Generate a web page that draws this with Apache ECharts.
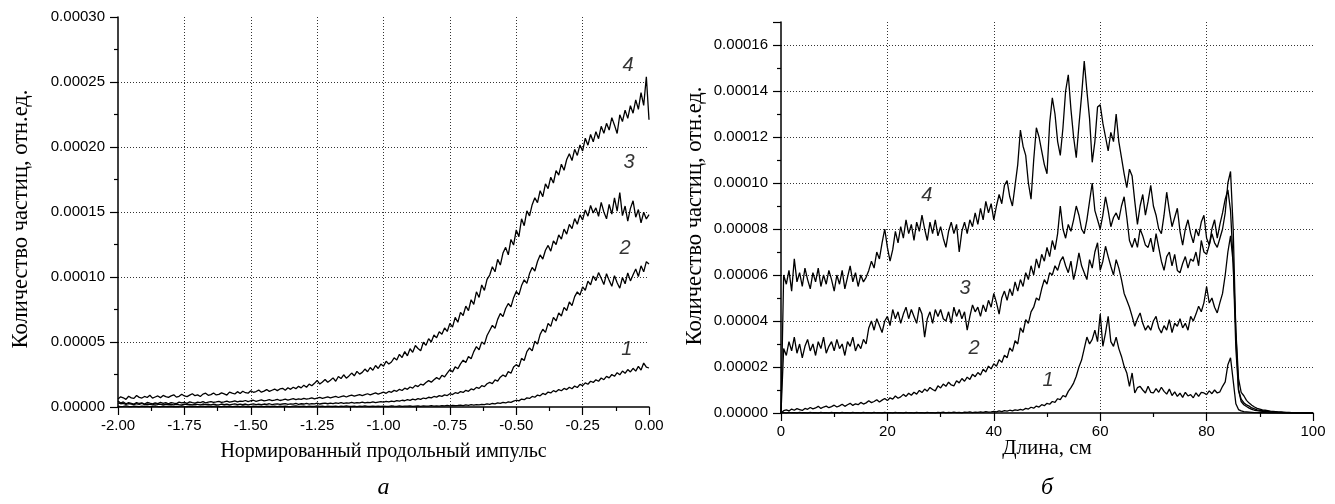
<!DOCTYPE html>
<html><head><meta charset="utf-8">
<script src="https://cdn.jsdelivr.net/npm/echarts@6/dist/echarts.min.js"></script>
<style>html,body{margin:0;padding:0;background:#fff}#c{width:1335px;height:504px}</style>
</head><body><div id="c"></div>
<script>
// ---------- DATA (values in units of 1e-6) ----------
// Panel a: x from -2.00 to 0.00, step 0.01
const leftXStart = -2, leftXStep = 0.01;
const leftCurve1 = [
0.6,0.3,0.5,0.8,0.4,0.3,0.6,0.5,0.2,0.7,0.4,0.6,0.3,0.5,0.8,0.4,0.3,0.6,0.5,0.4,
0.7,0.3,0.5,0.4,0.8,0.5,0.3,0.6,0.4,0.7,0.3,0.5,0.6,0.3,0.7,0.4,0.5,0.8,0.4,0.3,
0.6,0.4,0.7,0.3,0.5,0.6,0.3,0.8,0.4,0.5,0.3,0.7,0.5,0.4,0.6,0.3,0.7,0.4,0.5,0.6,
0.3,0.6,0.5,0.7,0.4,0.3,0.6,0.8,0.4,0.5,0.7,0.3,0.6,0.4,0.5,0.8,0.4,0.6,0.3,0.7,
0.5,0.4,0.7,0.3,0.6,0.5,0.8,0.4,0.5,0.7,0.3,0.6,0.4,0.8,0.5,0.4,0.7,0.5,0.6,0.4,
0.7,0.5,0.4,0.8,0.6,0.5,0.9,0.4,0.7,0.6,0.8,0.5,0.7,0.9,0.5,0.8,0.6,0.7,1.0,0.6,
0.9,0.7,1.0,0.8,1.2,0.9,1.3,1.0,1.2,1.5,1.1,1.6,1.3,1.8,1.4,1.9,1.6,2.1,1.8,2.4,
2.1,2.7,2.4,3.1,2.8,3.5,3.1,4.0,3.6,4.5,5.2,4.7,6.1,5.6,7.0,6.6,8.1,7.5,9.2,8.6,
10.4,9.6,11.5,10.8,12.6,11.7,13.4,12.5,14.3,13.4,15.2,14.0,16.1,15.0,17.4,16.4,18.6,17.5,19.8,18.9,
20.9,19.8,22.3,21.0,23.6,22.4,25.0,23.6,26.4,24.8,27.6,25.9,28.8,27.0,29.8,27.6,31.2,28.4,33.8,30.6,
30.0];
const leftCurve2 = [
3.1,2.5,2.8,2.1,2.6,2.3,1.9,2.5,2.1,2.7,1.9,2.3,2.0,1.7,2.4,2.0,2.2,1.7,2.3,1.9,
2.1,1.6,2.2,1.9,1.7,2.3,1.8,2.1,1.6,2.2,2.0,1.7,2.3,1.9,2.1,1.6,2.2,1.9,1.7,2.3,
1.9,2.2,1.7,2.1,2.4,1.8,2.2,1.9,2.3,1.7,2.1,2.4,1.9,2.2,1.8,2.3,2.0,2.5,1.9,2.2,
2.4,2.0,2.3,2.6,2.0,2.4,2.2,2.7,2.1,2.5,2.3,2.8,2.2,2.6,2.4,2.9,2.3,2.7,3.0,2.5,
2.9,2.6,3.1,2.8,3.3,2.7,3.2,3.0,3.5,2.9,3.4,3.2,3.7,3.1,3.6,3.4,3.9,3.3,3.8,4.1,
3.7,4.3,4.0,4.6,4.2,4.9,4.5,5.2,4.8,5.6,5.1,6.0,5.5,6.4,5.9,6.9,6.4,7.5,7.0,8.1,
7.6,8.7,8.2,9.3,8.8,10.2,9.6,11.0,10.4,11.9,11.2,12.8,12.1,13.9,13.2,15.1,14.3,16.4,15.7,17.9,
18.9,18.0,20.8,19.9,22.9,24.6,23.4,27.3,26.0,30.8,32.6,31.0,37.4,35.8,42.6,45.4,43.2,50.6,48.4,55.9,
59.8,57.4,64.3,62.0,68.9,66.2,72.4,70.0,76.6,74.2,80.8,78.0,84.9,88.6,86.1,92.4,89.8,96.8,94.0,100.8,
97.2,103.4,99.0,94.2,102.6,97.4,92.8,101.0,95.6,91.4,99.6,94.8,103.2,97.0,101.8,106.2,100.4,108.6,104.0,111.8,
110.0];
const leftCurve3 = [
4.6,3.0,3.9,2.5,3.3,2.8,2.2,3.4,2.7,3.1,2.3,3.5,2.9,2.4,3.2,2.6,3.6,2.8,3.3,2.5,
3.4,2.9,2.6,3.7,3.1,3.5,2.8,3.9,3.3,3.0,3.8,3.4,4.1,3.2,3.7,4.2,3.5,3.9,4.4,3.6,
4.0,4.5,3.7,4.2,4.7,3.9,4.6,4.3,5.0,4.1,4.8,5.2,4.4,4.9,5.4,4.7,5.1,5.6,4.9,5.3,
5.8,5.0,5.5,6.1,5.3,5.9,6.4,5.6,6.2,5.8,6.7,6.0,6.5,7.1,6.3,6.9,7.4,6.6,7.2,7.8,
7.0,7.6,8.2,7.3,8.0,8.6,7.7,8.5,9.1,8.3,9.0,9.6,8.8,9.5,10.2,9.3,10.1,10.8,9.9,10.6,
11.4,10.5,12.0,11.3,12.8,12.1,13.6,12.7,14.5,13.6,15.4,14.5,16.6,15.7,17.6,16.9,18.8,20.3,19.1,21.0,
22.6,21.3,24.4,23.2,26.1,28.8,27.0,30.9,29.4,33.2,36.0,34.2,38.9,37.1,42.6,46.4,44.0,50.1,48.2,55.0,
58.9,62.8,60.6,67.4,71.9,69.5,75.8,79.6,77.0,84.1,88.9,86.2,93.4,97.8,95.1,102.6,107.4,104.6,111.9,117.0,
113.8,120.6,124.3,119.9,127.8,125.0,132.4,129.1,136.8,133.0,140.5,137.2,144.9,140.6,147.8,143.9,151.6,146.8,155.0,149.3,
153.2,146.6,157.4,150.0,144.8,155.8,148.4,160.9,150.6,165.0,147.2,154.6,143.0,152.8,158.6,146.0,151.9,141.6,149.8,144.6,
148.0];
const leftCurve4 = [
6.2,7.8,7.1,5.9,8.3,7.0,6.6,8.8,7.4,6.9,8.1,7.3,9.0,6.8,7.7,8.5,7.2,8.9,8.0,7.4,
8.6,9.4,7.6,8.2,9.8,8.5,8.0,9.1,10.2,8.7,9.3,8.1,9.9,10.6,9.0,9.5,10.8,9.3,9.7,10.9,
10.1,9.2,11.4,10.6,10.0,11.8,10.4,12.1,11.0,10.6,12.5,11.3,11.9,13.0,11.4,12.2,13.4,12.0,12.9,13.8,
12.6,13.9,14.4,12.9,14.8,13.6,15.2,14.1,15.9,14.7,16.8,15.2,17.6,16.3,18.2,20.4,17.6,19.3,21.2,19.0,
20.6,22.4,19.8,23.5,21.9,24.8,22.2,23.9,26.1,24.0,27.4,25.3,26.6,29.2,27.1,30.4,28.3,31.9,29.6,33.0,
31.4,35.2,33.0,34.6,37.8,36.1,40.5,38.0,42.6,39.4,44.8,42.1,47.3,45.0,43.2,49.8,47.4,52.6,50.0,55.4,
53.2,57.9,56.0,60.8,58.1,64.3,61.4,68.9,65.2,72.8,70.4,77.6,74.1,82.5,79.0,88.6,84.3,93.9,89.7,98.2,
101.5,107.9,104.0,113.6,109.2,118.4,122.8,117.0,128.9,124.6,136.2,131.0,144.8,139.5,150.9,147.0,155.6,160.9,157.2,166.4,
161.8,171.6,168.0,176.8,172.3,181.9,178.4,186.8,182.1,190.4,194.8,189.6,198.2,193.5,201.6,197.0,206.8,201.4,209.6,204.0,
211.8,206.4,215.9,210.6,218.2,213.0,222.6,216.8,210.4,224.8,219.6,228.4,222.0,231.8,226.0,236.2,229.0,241.8,232.0,254.0,
221.0];

// Panel б: x from 0 to 100 cm, step 0.5
const rightXStart = 0, rightXStep = 0.5;
const rightCurve1 = [
0,0.2,0,0.3,0.1,0.2,0,0.3,0.1,0.2,
0,0.3,0.1,0.2,0,0.3,0.1,0.2,0,0.3,
0.1,0.2,0,0.3,0.1,0.2,0,0.3,0.1,0.2,
0,0.3,0.1,0.2,0,0.3,0.1,0.2,0,0.3,
0.1,0.2,0,0.3,0.1,0.2,0,0.3,0.1,0.2,
0,0.3,0.1,0.2,0,0.3,0.1,0.2,0,0.3,
0.2,0.4,0.1,0.3,0.2,0.4,0.2,0.3,0.1,0.4,
0.3,0.5,0.2,0.4,0.3,0.5,0.3,0.6,0.4,0.5,
0.7,0.5,0.9,0.6,1.0,0.8,1.2,0.9,1.4,1.1,
1.6,1.3,2.0,1.7,2.5,2.1,3.0,2.6,3.6,3.2,
4.2,3.8,5.0,4.6,6.2,5.8,7.6,7.0,9.4,11.0,
13.0,16.0,20.0,23.0,28.0,33.0,30.0,32.0,36.0,31.0,
43.0,29.0,34.8,42.0,31.0,29.0,33.0,28.0,24.6,20.3,
17.4,11.6,17.4,8.7,11.0,11.6,10.0,8.7,11.6,9.0,
8.7,10.6,9.0,11.2,9.4,8.2,10.4,7.6,9.2,7.2,
8.6,6.8,9.0,7.4,8.0,6.6,8.8,7.2,9.0,8.7,
8.0,9.6,8.4,10.0,8.7,9.2,11.6,13.5,21.0,24.0,
14.0,4.0,1.5,0.9,0.6,0.5,0.4,0.3,0.2,0.2,
0.1,0.1,0.1,0,0,0,0,0,0,0,
0,0,0,0,0,0,0,0,0,0,
0];
const rightCurve2 = [
0,1.0,1.4,0.9,1.7,1.2,1.9,1.5,1.1,2.0,
1.6,2.4,1.8,2.2,2.9,2.0,2.6,3.0,2.3,2.8,
3.4,2.6,3.1,3.8,2.9,3.6,4.2,3.3,4.0,3.6,
4.6,3.9,4.4,5.3,4.5,5.0,5.8,4.8,5.6,6.3,
5.4,6.6,6.0,7.4,6.4,7.0,8.1,7.2,8.6,7.7,
9.0,8.2,9.8,8.9,10.4,9.5,11.1,10.2,9.6,11.8,
10.9,12.6,11.6,13.4,12.2,11.8,14.0,13.1,15.0,13.8,
15.6,14.6,16.8,15.8,17.6,16.5,19.0,17.8,20.4,19.2,
21.4,20.3,23.2,22.0,25.1,24.0,28.3,26.8,31.4,30.0,
37.0,35.0,40.6,39.0,44.0,46.0,50.0,49.0,54.0,58.0,
56.0,61.0,60.0,64.0,62.0,66.0,68.0,64.0,61.0,66.0,
58.0,63.0,69.6,64.0,61.0,58.0,66.7,63.0,70.0,74.0,
62.0,66.0,72.5,68.0,63.8,60.0,66.7,63.0,58.0,52.0,
49.0,46.0,42.0,37.7,41.0,43.5,39.0,36.0,38.0,36.0,
40.0,42.0,37.0,34.8,38.0,36.0,40.6,35.0,39.0,37.7,
41.0,37.0,39.0,36.0,42.0,40.0,43.0,46.4,44.0,48.0,
55.0,47.8,50.0,46.0,43.5,48.0,52.0,60.0,70.0,77.0,
65.0,36.0,15.0,9.0,7.5,5.5,4.3,3.4,2.6,2.0,
1.7,1.4,1.2,1.0,0.8,0.7,0.6,0.5,0.5,0.4,
0.3,0.3,0.2,0.2,0.1,0.1,0.1,0,0,0,
0];
const rightCurve3 = [
0,28,25,31,27,33,26,30,24,29,
32,27,30,25,31,28,33,26,29,31,
27,32,28,30,25,31,29,33,27,30,
28,32,30,37,40,36,41,38,35,40,
42,38,45,41,44,39,43,46,41,45,
42,39,46,43,33,41,44,39,45,42,
45,41,40,44,39,46,42,45,41,44,
36,42,47,44,46,42,47,44,49,46,
52,48,43,50,53,49,54,51,57,53,
58,55,61,58,64,60,67,63,69,66,
72,68,75,71,78,90,80,76,82,79,
84,90,86,80,78,84,92,100,88,84,
80,86,94,88,81,85,87,84,90,94,
85,75,72,76,72,80,77,73,72,76,
70,78,72,66,62,68,70,64,69,62,
61,65,68,63,67,66,70,64,75,70,
69,73,78,74,72,76,80,87,100,105,
80,35,10,5,3.6,2.8,2.1,1.6,1.2,1.0,
0.8,0.7,0.6,0.5,0.4,0.3,0.3,0.2,0.2,0.1,
0.1,0.1,0,0,0,0,0,0,0,0,
0];
const rightCurve4 = [
0,60,56,62,53,67,57,61,55,63,
58,54,61,57,63,55,60,56,62,58,
53,60,56,62,54,59,64,57,61,55,
60,57,59,62,66,63,70,67,74,80,
72,66,71,79,74,81,76,84,78,82,
75,83,79,86,80,75,83,78,84,77,
81,76,72,79,83,78,82,70,79,83,
78,84,81,87,82,89,84,92,87,91,
84,90,95,91,99,101,94,90,99,108,
123,116,112,100,93,110,124,120,114,108,
104,126,137,130,118,112,124,140,147,132,
120,111,125,138,153,140,128,109,118,133,
134,126,120,114,122,118,130,118,111,104,
98,106,103,92,82,90,95,86,92,99,
90,86,80,78,86,96,88,81,85,89,
79,73,80,84,78,74,80,77,83,86,
76,73,80,84,76,82,87,93,97,88,
65,28,10,6,4.5,3.5,3,2.2,1.8,1.4,
1.2,1,0.8,0.7,0.5,0.5,0.4,0.3,0.3,0.2,
0.2,0.1,0.1,0.1,0,0,0,0,0,0,
0];

const curveNames = ['1', '2', '3', '4'];
// label anchor positions in data units (x, value*1e-6)
const leftLabelPos = [[-0.084, 44], [-0.09, 122], [-0.075, 188], [-0.079, 263]];
const rightLabelPos = [[50.2, 14.3], [36.3, 28.2], [34.6, 54.3], [27.4, 94.6]];

const leftXTitle = 'Нормированный продольный импульс';
const rightXTitle = 'Длина, см';
const yTitle = 'Количество частиц, отн.ед.';
const panelCaptions = ['а', 'б'];

// ---------- BUILD ----------
const SCALE = 1e-6;
function toPairs(arr, x0, dx) {
  return arr.map((v, i) => [Number((x0 + i * dx).toFixed(4)), v * SCALE]);
}
const lineStyle = { color: '#000', width: 1.3 };
function lineSeries(arr, x0, dx, gi) {
  return {
    type: 'line', xAxisIndex: gi, yAxisIndex: gi, data: toPairs(arr, x0, dx),
    symbol: 'none', showSymbol: false, lineStyle: lineStyle, silent: true,
    animation: false, z: 3
  };
}
function labelSeries(pos, gi) {
  return {
    type: 'scatter', xAxisIndex: gi, yAxisIndex: gi, symbolSize: 1,
    itemStyle: { color: 'rgba(0,0,0,0)' }, silent: true, animation: false, z: 5,
    data: pos.map((p, i) => ({ value: [p[0], p[1] * SCALE], name: curveNames[i] })),
    label: {
      show: true, position: 'inside', formatter: '{b}', color: '#000',
      fontFamily: 'Liberation Sans', fontStyle: 'italic', fontSize: 20
    }
  };
}
const axisLine = { show: true, onZero: false, lineStyle: { color: '#000', width: 1.5 } };
const axisTick = { show: true, inside: false, length: 8, lineStyle: { color: '#000', width: 1.2 } };
const minorTick = { show: true, splitNumber: 2, length: 4, lineStyle: { color: '#000', width: 1.2 } };
const splitLine = { show: true, showMinLine: false, showMaxLine: false,
  lineStyle: { color: '#333', width: 1, type: [1, 2] } };
const labelFont = { fontFamily: 'Liberation Sans', fontSize: 15, color: '#000' };

const option = {
  animation: false,
  backgroundColor: '#fff',
  grid: [
    { left: 118, top: 17, width: 531, height: 390 },
    { left: 781, top: 22, width: 532, height: 391 }
  ],
  xAxis: [
    { type: 'value', gridIndex: 0, min: -2, max: 0, interval: 0.25,
      axisLine, axisTick, minorTick, splitLine,
      axisLabel: Object.assign({ margin: 11, formatter: v => v.toFixed(2) }, labelFont) },
    { type: 'value', gridIndex: 1, min: 0, max: 100, interval: 20,
      axisLine, axisTick, minorTick, splitLine,
      axisLabel: Object.assign({ margin: 11, formatter: v => String(Math.round(v)) }, labelFont) }
  ],
  yAxis: [
    { type: 'value', gridIndex: 0, min: 0, max: 0.0003, interval: 0.00005,
      axisLine, axisTick, minorTick, splitLine,
      axisLabel: Object.assign({ margin: 13, formatter: v => v.toFixed(5) }, labelFont) },
    { type: 'value', gridIndex: 1, min: 0, max: 0.00017, interval: 0.00002,
      axisLine, axisTick, minorTick, splitLine,
      axisLabel: Object.assign({ margin: 13, showMaxLabel: false, formatter: v => v.toFixed(5) }, labelFont) }
  ],
  series: [
    lineSeries(leftCurve1, leftXStart, leftXStep, 0),
    lineSeries(leftCurve2, leftXStart, leftXStep, 0),
    lineSeries(leftCurve3, leftXStart, leftXStep, 0),
    lineSeries(leftCurve4, leftXStart, leftXStep, 0),
    lineSeries(rightCurve1, rightXStart, rightXStep, 1),
    lineSeries(rightCurve2, rightXStart, rightXStep, 1),
    lineSeries(rightCurve3, rightXStart, rightXStep, 1),
    lineSeries(rightCurve4, rightXStart, rightXStep, 1),
    labelSeries(leftLabelPos, 0),
    labelSeries(rightLabelPos, 1)
  ],
  graphic: [
    { type: 'text', x: 21, y: 219, rotation: Math.PI / 2,
      style: { text: yTitle, fill: '#000', font: '22.5px "Liberation Serif"', textAlign: 'center', textVerticalAlign: 'middle' } },
    { type: 'text', x: 695, y: 216, rotation: Math.PI / 2,
      style: { text: yTitle, fill: '#000', font: '22.5px "Liberation Serif"', textAlign: 'center', textVerticalAlign: 'middle' } },
    { type: 'text', x: 383.5, y: 452,
      style: { text: leftXTitle, fill: '#000', font: '20px "Liberation Serif"', textAlign: 'center', textVerticalAlign: 'middle' } },
    { type: 'text', x: 1047, y: 448,
      style: { text: rightXTitle, fill: '#000', font: '21px "Liberation Serif"', textAlign: 'center', textVerticalAlign: 'middle' } },
    { type: 'text', x: 383.5, y: 488,
      style: { text: panelCaptions[0], fill: '#000', font: 'italic 24px "Liberation Serif"', textAlign: 'center', textVerticalAlign: 'middle' } },
    { type: 'text', x: 1047, y: 488,
      style: { text: panelCaptions[1], fill: '#000', font: 'italic 24px "Liberation Serif"', textAlign: 'center', textVerticalAlign: 'middle' } }
  ]
};
const chart = echarts.init(document.getElementById('c'), null, { renderer: 'canvas' });
chart.setOption(option);
</script>
</body></html>
